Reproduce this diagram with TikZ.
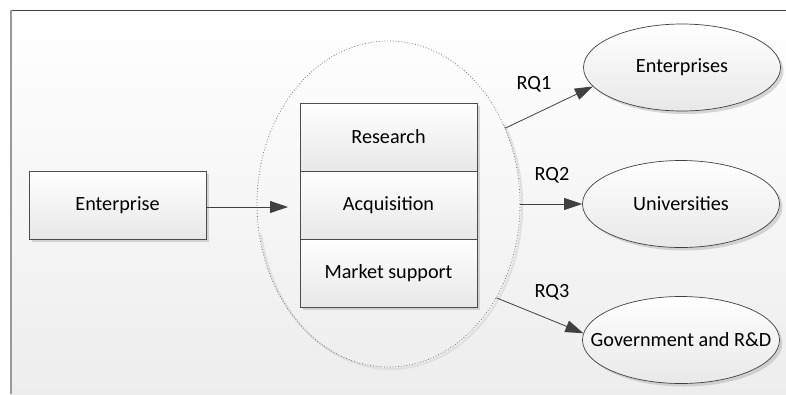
\documentclass[tikz,border=0pt]{standalone}
\usepackage{fontspec}
\setmainfont{Carlito}
\usetikzlibrary{shapes.geometric,arrows.meta,shadows}
\begin{document}
\begin{tikzpicture}[x=1pt,y=-1pt,
  every node/.style={font=\fontsize{20.2}{24}\selectfont, text=black},
  shd/.style={drop shadow={shadow xshift=3pt, shadow yshift=-3pt, fill=black!30, opacity=0.5}},
  boxn/.style={draw=black!70, line width=0.8pt, minimum width=177pt, minimum height=68pt,
    inner sep=0pt, top color=white, bottom color=black!9, shd},
  elln/.style={ellipse, draw=black!75, line width=0.7pt, minimum width=197pt, minimum height=87pt,
    inner sep=0pt, top color=white, bottom color=black!9, shd},
  arr/.style={draw=black!75, line width=0.8pt, -{Triangle[length=18pt,width=12pt,fill=black!75]}},
  lbl/.style={inner sep=0pt}
]
\useasboundingbox (0,0) rectangle (786,394);
\fill[white] (0,0) rectangle (786,394);
\shade[top color=white, bottom color=black!7] (10,10) rectangle (786,394);
\draw[black!75, line width=1pt] (10,10.5) -- (786,10.5);
\draw[black!40, line width=2pt] (11,10) -- (11,394);

% big dotted ellipse
\draw[black!12, line width=2.2pt] (504.4,124.5) arc[start angle=-30, end angle=170, x radius=131.5, y radius=163];
\node[ellipse, draw=black!55, dotted, line width=0.8pt, minimum width=263pt, minimum height=326pt, inner sep=0pt] (big) at (388.5,204) {};

% left box
\node[boxn] (ent) at (117.5,205) {Enterprise};
\coordinate (tipin) at (288,207);
\draw[arr] (ent.east |- tipin) -- (tipin);

% stacked boxes
\node[boxn] (res) at (388.5,137) {Research};
\node[boxn] (acq) at (388.5,205) {Acquisition};
\node[boxn] (mkt) at (388.5,273) {Market support};

% right ellipses
\node[elln] (e1) at (682,67.5) {\makebox[0pt]{Enterprises}};
\node[elln] (e2) at (681,204) {\makebox[0pt]{Universities}};
\node[elln] (e3) at (681,340) {\makebox[0pt]{Government and R\&D}};

\draw[arr] (big.33.5) -- (e1.192);
\draw[arr] (big.east) -- (e2.west);
\draw[arr] (big.-41.2) -- (e3.176);

\node[lbl] (rq1) at (534,84) {RQ1};
\node[lbl] (rq2) at (552,175) {RQ2};
\node[lbl] (rq3) at (552,292) {RQ3};
\end{tikzpicture}
\end{document}
